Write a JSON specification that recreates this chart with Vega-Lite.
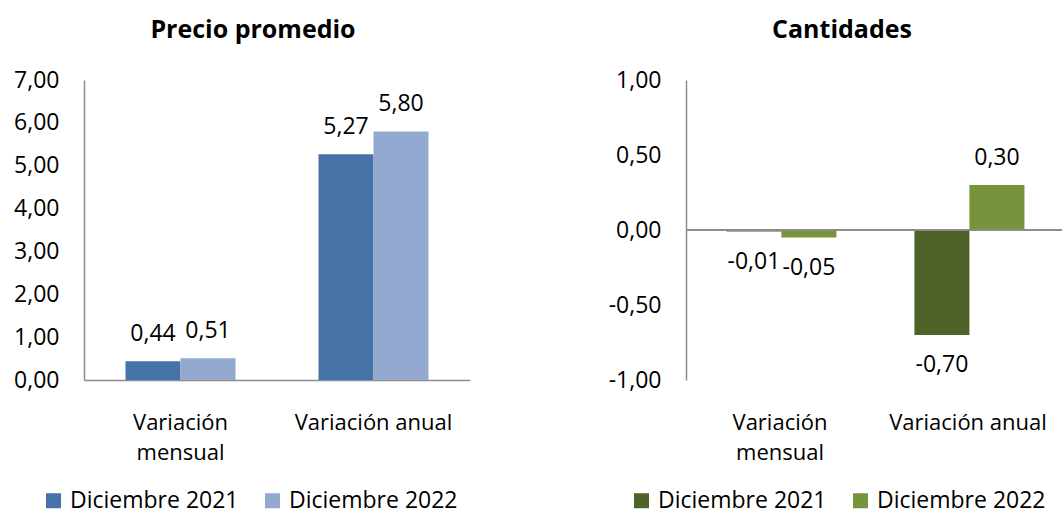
{
  "$schema": "https://vega.github.io/schema/vega-lite/v6.json",
  "padding": {"left": 13, "top": 18, "right": 0, "bottom": 12},
  "background": "white",
  "config": {
    "font": "Open Sans",
    "locale": {"number": {"decimal": ",", "thousands": ".", "grouping": [3], "currency": ["", ""], "minus": "-"}},
    "view": {"stroke": null},
    "axis": {"labelFont": "Open Sans", "labelColor": "#000", "labelFontSize": 23, "grid": false, "ticks": false, "domainColor": "#8c8c8c", "domainWidth": 1.5, "title": null},
    "legend": {"labelFont": "Open Sans", "labelFontSize": 23, "labelColor": "#000", "labelLimit": 400, "symbolType": "square", "symbolSize": 225, "symbolStrokeWidth": 0, "labelOffset": 5, "columnPadding": 22, "title": null, "orient": "none", "direction": "horizontal"},
    "title": {"font": "Open Sans", "fontSize": 25, "fontWeight": "bold", "color": "#000", "frame": "group", "anchor": "middle", "baseline": "alphabetic", "offset": 26},
    "concat": {"spacing": 138}
  },
  "datasets": {
    "precio": [
      {"cat": "Variación mensual", "serie": "Diciembre 2021", "valor": 0.44},
      {"cat": "Variación mensual", "serie": "Diciembre 2022", "valor": 0.51},
      {"cat": "Variación anual", "serie": "Diciembre 2021", "valor": 5.27},
      {"cat": "Variación anual", "serie": "Diciembre 2022", "valor": 5.80}
    ],
    "cant": [
      {"cat": "Variación mensual", "serie": "Diciembre 2021", "valor": -0.01},
      {"cat": "Variación mensual", "serie": "Diciembre 2022", "valor": -0.05},
      {"cat": "Variación anual", "serie": "Diciembre 2021", "valor": -0.70},
      {"cat": "Variación anual", "serie": "Diciembre 2022", "valor": 0.30}
    ]
  },
  "hconcat": [
    {
      "width": 386,
      "height": 300,
      "title": {"text": "Precio promedio", "dx": -24},
      "data": {"name": "precio"},
      "encoding": {
        "x": {"field": "cat", "type": "nominal", "sort": ["Variación mensual", "Variación anual"],
          "scale": {"paddingInner": 0.43, "paddingOuter": 0.215},
          "axis": {"labelAngle": 0, "labelPadding": 32, "labelFontSize": 22, "labelLineHeight": 30, "labelBaseline": "top",
            "labelExpr": "datum.label == 'Variación mensual' ? ['Variación', 'mensual'] : datum.label"}},
        "xOffset": {"field": "serie", "type": "nominal", "sort": ["Diciembre 2021", "Diciembre 2022"]},
        "y": {"field": "valor", "type": "quantitative", "scale": {"domain": [0, 7], "nice": false},
          "axis": {"values": [0, 1, 2, 3, 4, 5, 6, 7], "format": ".2f", "labelPadding": 25}}
      },
      "layer": [
        {
          "mark": {"type": "bar"},
          "encoding": {
            "color": {"field": "serie", "type": "nominal",
              "scale": {"domain": ["Diciembre 2021", "Diciembre 2022"], "range": ["#4572A7", "#93A9CF"]},
              "legend": {"legendX": -42, "legendY": 409}}
          }
        },
        {
          "transform": [{"filter": "datum.valor >= 0"}],
          "mark": {"type": "text", "dy": -27, "fontSize": 23, "baseline": "middle", "color": "#000"},
          "encoding": {"text": {"field": "valor", "type": "quantitative", "format": ".2f"}}
        }
      ]
    },
    {
      "width": 376,
      "height": 300,
      "title": {"text": "Cantidades", "dx": -32},
      "data": {"name": "cant"},
      "layer": [
        {
          "mark": {"type": "bar"},
          "encoding": {
            "x": {"field": "cat", "type": "nominal", "sort": ["Variación mensual", "Variación anual"],
              "scale": {"paddingInner": 0.43, "paddingOuter": 0.215},
              "axis": {"labelAngle": 0, "labelPadding": 32, "labelFontSize": 22, "labelLineHeight": 30, "labelBaseline": "top", "domain": false,
                "labelExpr": "datum.label == 'Variación mensual' ? ['Variación', 'mensual'] : datum.label"}},
            "xOffset": {"field": "serie", "type": "nominal", "sort": ["Diciembre 2021", "Diciembre 2022"]},
            "y": {"field": "valor", "type": "quantitative", "scale": {"domain": [-1, 1], "nice": false},
              "axis": {"values": [-1, -0.5, 0, 0.5, 1], "format": ".2f", "labelPadding": 25, "domain": true}},
            "color": {"field": "serie", "type": "nominal",
              "scale": {"domain": ["Diciembre 2021", "Diciembre 2022"], "range": ["#4F6228", "#77933C"]},
              "legend": {"legendX": -56, "legendY": 409}}
          }
        },
        {
          "mark": {"type": "rule", "color": "#8c8c8c", "strokeWidth": 1.5},
          "encoding": {"y": {"datum": 0}}
        },
        {
          "transform": [{"filter": "datum.valor >= 0"}],
          "mark": {"type": "text", "dy": -27, "fontSize": 23, "baseline": "middle", "color": "#000"},
          "encoding": {
            "x": {"field": "cat", "type": "nominal", "sort": ["Variación mensual", "Variación anual"]},
            "xOffset": {"field": "serie", "type": "nominal", "sort": ["Diciembre 2021", "Diciembre 2022"]},
            "y": {"field": "valor", "type": "quantitative"},
            "text": {"field": "valor", "type": "quantitative", "format": ".2f"}
          }
        },
        {
          "transform": [{"filter": "datum.valor < 0"}],
          "mark": {"type": "text", "dy": 30, "fontSize": 23, "baseline": "middle", "color": "#000"},
          "encoding": {
            "x": {"field": "cat", "type": "nominal", "sort": ["Variación mensual", "Variación anual"]},
            "xOffset": {"field": "serie", "type": "nominal", "sort": ["Diciembre 2021", "Diciembre 2022"]},
            "y": {"field": "valor", "type": "quantitative"},
            "text": {"field": "valor", "type": "quantitative", "format": ".2f"}
          }
        }
      ]
    }
  ],
  "resolve": {"scale": {"color": "independent"}, "legend": {"color": "independent"}}
}
